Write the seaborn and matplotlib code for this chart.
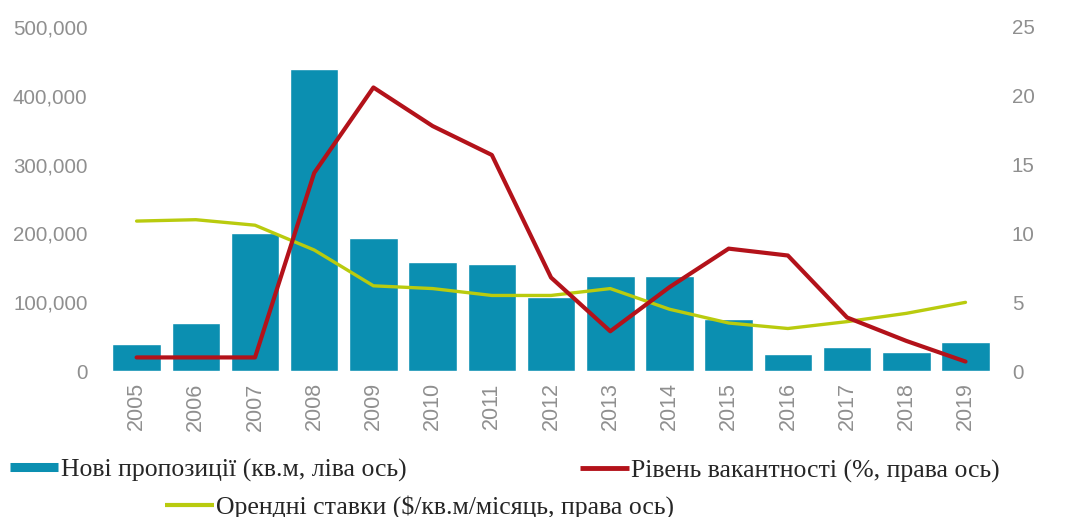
import numpy as np
import pandas as pd
import matplotlib
matplotlib.use("Agg")
import matplotlib.pyplot as plt
from matplotlib.lines import Line2D
from matplotlib.ticker import FuncFormatter
import seaborn as sns

# Office market data, 2005-2019
years = ["2005", "2006", "2007", "2008", "2009", "2010", "2011", "2012",
         "2013", "2014", "2015", "2016", "2017", "2018", "2019"]
new_supply = [40000, 70000, 200000, 439000, 194000, 159000, 156000, 108000,
              138000, 138000, 76000, 25000, 35000, 28000, 42000]
vacancy = [1.0, 1.0, 1.0, 14.4, 20.6, 17.8, 15.7, 6.8,
           2.9, 6.1, 8.9, 8.4, 3.9, 2.2, 0.7]
rent = [10.9, 11.0, 10.6, 8.8, 6.2, 6.0, 5.5, 5.5,
        6.0, 4.5, 3.5, 3.1, 3.6, 4.2, 5.0]

label_supply = "Нові пропозиції (кв.м, ліва ось)"
label_vacancy = "Рівень вакантності (%, права ось)"
label_rent = "Орендні ставки ($/кв.м/місяць, права ось)"

bar_color = "#0b8fb1"
red_color = "#b3121a"
yellow_color = "#b9cb0e"
tick_color = "#8f8f8f"

df = pd.DataFrame({"year": years, "supply": new_supply,
                   "vacancy": vacancy, "rent": rent})
df["pos"] = np.arange(len(df))

sns.set_theme(style="white")
plt.rcParams["font.family"] = ["Liberation Sans", "DejaVu Sans"]

fig = plt.figure(figsize=(10.70, 5.17), dpi=100)
ax = fig.add_axes([0.100, 0.282, 0.830, 0.666])

sns.barplot(data=df, x="year", y="supply", color=bar_color, width=0.82,
            saturation=1, ax=ax)
ax.set_xlim(-0.5, len(years) - 0.5)
ax.set_ylim(0, 500000)
ax.set_yticks(np.arange(0, 500001, 100000))
ax.yaxis.set_major_formatter(FuncFormatter(lambda v, p: f"{int(v):,}"))
ax.set_xlabel("")
ax.set_ylabel("")
ax.tick_params(axis="x", labelrotation=90, labelsize=15.5, colors=tick_color,
               length=0, pad=8)
ax.tick_params(axis="y", labelsize=14.8, colors=tick_color, length=0, pad=14)
for s in ax.spines.values():
    s.set_visible(False)

ax2 = ax.twinx()
sns.lineplot(data=df, x="pos", y="rent", color=yellow_color, linewidth=2.4,
             ax=ax2, legend=False)
sns.lineplot(data=df, x="pos", y="vacancy", color=red_color, linewidth=3.0,
             ax=ax2, legend=False)
ax2.set_ylim(0, 25)
ax2.set_yticks(np.arange(0, 26, 5))
ax2.set_xlim(-0.5, len(years) - 0.5)
ax2.set_xlabel("")
ax2.set_ylabel("")
ax2.tick_params(axis="y", labelsize=14.8, colors=tick_color, length=0, pad=12)
for s in ax2.spines.values():
    s.set_visible(False)
ax2.grid(False)

legend_font = {"family": ["Liberation Serif", "DejaVu Serif"], "size": 18.5}
entries = [
    (Line2D([0], [0], color=bar_color, lw=6.5, solid_capstyle="butt"),
     label_supply, (0.009, 0.091)),
    (Line2D([0], [0], color=red_color, lw=3.5, solid_capstyle="butt"),
     label_vacancy, (0.542, 0.089)),
    (Line2D([0], [0], color=yellow_color, lw=3.0, solid_capstyle="butt"),
     label_rent, (0.154, 0.019)),
]
for handle, text, anchor in entries:
    fig.legend([handle], [text], loc="center left", bbox_to_anchor=anchor,
               frameon=False, prop=legend_font, handlelength=1.9,
               handletextpad=0.08, borderpad=0, borderaxespad=0)

fig.savefig("out.png", dpi=100)
